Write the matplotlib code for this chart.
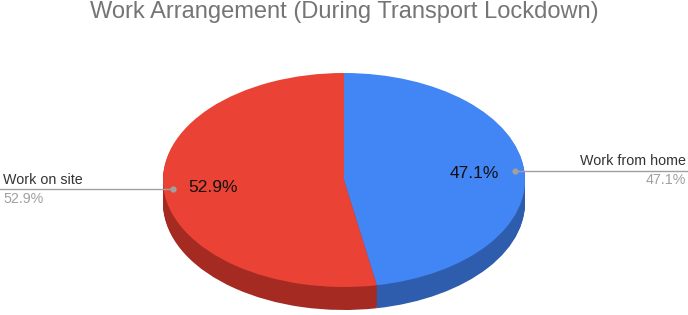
import matplotlib
matplotlib.use("Agg")
import matplotlib.pyplot as plt
from matplotlib.transforms import Affine2D

plt.rcParams['font.family'] = ['Liberation Sans', 'DejaVu Sans']

title = "Work Arrangement (During Transport Lockdown)"
labels = ["Work from home", "Work on site"]
values = [47.1, 52.9]
pct_labels = ["47.1%", "52.9%"]
top_colors = ["#4285F4", "#EA4335"]
side_colors = ["#2E5DAD", "#A52B22"]

W, H = 688, 315
fig = plt.figure(figsize=(W / 100, H / 100), dpi=100)
ax = fig.add_axes([0, 0, 1, 1])

cx, cy = 344, H - 180
rx, ry = 181, 107
depth = 23

def tr(dy):
    return Affine2D().scale(rx, ry).translate(cx, cy - dy) + ax.transData

# side layers
for k in range(depth, 0, -1):
    wedges, _ = ax.pie(values, colors=side_colors, startangle=90, counterclock=False,
                       wedgeprops=dict(linewidth=0, antialiased=True))
    for w in wedges:
        w.set_transform(tr(k))
# top face
wedges, _ = ax.pie(values, colors=top_colors, startangle=90, counterclock=False,
                   wedgeprops=dict(linewidth=0))
for w in wedges:
    w.set_transform(tr(0))

ax.set_aspect('auto')
ax.set_xlim(0, W)
ax.set_ylim(0, H)
ax.axis('off')

def py(y):
    return H - y

# inner percentage labels
ax.text(474, py(173), pct_labels[0], fontsize=12.5, color="#111111", ha="center", va="center")
ax.text(213, py(188), pct_labels[1], fontsize=12.5, color="#111111", ha="center", va="center")

line_c = "#a0a0a0"
# right leader (Work from home)
ax.plot([515, W], [py(171), py(171)], color=line_c, lw=1)
ax.plot([515], [py(171)], 'o', color=line_c, ms=3.5)
ax.text(686, py(161), labels[0], fontsize=10.3, color="#333333", ha="right", va="center")
ax.text(686, py(180), pct_labels[0], fontsize=10.3, color="#a0a0a0", ha="right", va="center")

# left leader (Work on site)
ax.plot([0, 173], [py(189), py(189)], color=line_c, lw=1)
ax.plot([173], [py(189)], 'o', color=line_c, ms=3.5)
ax.text(3, py(180), labels[1], fontsize=10.3, color="#333333", ha="left", va="center")
ax.text(3, py(199), pct_labels[1], fontsize=10.3, color="#a0a0a0", ha="left", va="center")

ax.text(344, py(18), title, fontsize=17, color="#757575", ha="center", va="baseline")

fig.savefig("out.png", dpi=100)
